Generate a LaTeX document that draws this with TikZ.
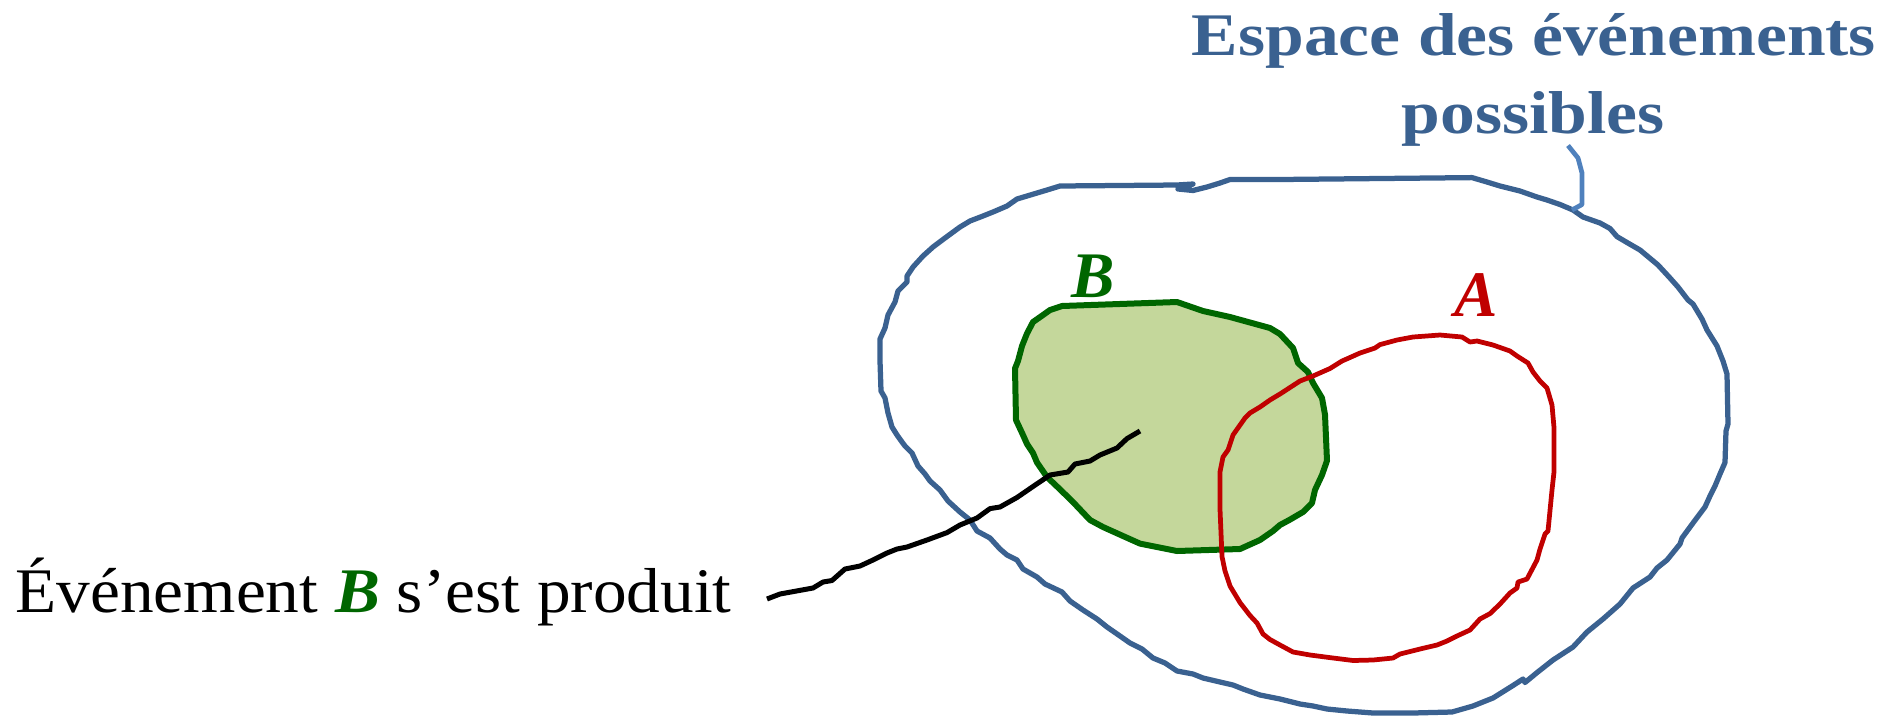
\documentclass[tikz,border=0pt]{standalone}
\usepackage{fontspec}
\setmainfont{Liberation Serif}
\newfontfamily\titlefont[FakeStretch=1.15]{Liberation Serif}
\newfontfamily\lblfont[FakeStretch=1.06]{Liberation Serif}
\definecolor{outblue}{HTML}{3A6190}
\definecolor{leadblue}{HTML}{4F81BD}
\definecolor{bgreen}{HTML}{006600}
\definecolor{bfill}{HTML}{C4D79B}
\definecolor{ared}{HTML}{C00000}
\tikzset{
  title/.style={anchor=base, inner sep=0pt, text=outblue, font=\titlefont\bfseries\fontsize{24.2pt}{29pt}\selectfont},
  setlabel/.style={anchor=center, inner sep=0pt, font=\bfseries\itshape\fontsize{26pt}{30pt}\selectfont},
  lbl/.style={anchor=base west, inner sep=0pt, font=\lblfont\fontsize{25.4pt}{30pt}\selectfont},
  univ/.style={draw=outblue, line width=2.1pt, line join=round, line cap=round},
  setb/.style={draw=bgreen, fill=bfill, line width=2.4pt, line join=round},
  seta/.style={draw=ared, line width=1.9pt, line join=round},
  pointer/.style={draw=black, line width=2pt, line join=round},
  leader/.style={draw=leadblue, line width=1.9pt, line join=round},
}
\begin{document}
\begin{tikzpicture}[x=0.4pt, y=-0.4pt]
\useasboundingbox (0,0) rectangle (1895,715);
% universe outline
\draw[univ] (1060,186) -- (1177,185) -- (1193,184) -- (1178,189) -- (1193,190.5) -- (1207,187) -- (1220,183) -- (1230,179.5) -- (1280,179.5) -- (1472,177.6) -- (1487,182) -- (1500,186) -- (1520,191) -- (1537,197) -- (1547,200) -- (1560,204.5) -- (1573,210) -- (1583,217) -- (1600,223) -- (1610,228.5) -- (1617,236.6) -- (1627,242.5) -- (1640,250) -- (1652,260) -- (1658,265) -- (1670,278) -- (1678,287) -- (1688,300) -- (1693,304) -- (1702,319) -- (1707,330) -- (1717,346) -- (1723,361) -- (1727,374) -- (1728,424) -- (1726,431) -- (1725,462.5) -- (1720,474) -- (1715,486) -- (1710,496) -- (1705,507) -- (1693,523) -- (1682,538) -- (1680,544) -- (1667,560) -- (1657,568) -- (1650,577) -- (1633,588) -- (1620,604) -- (1603,619) -- (1587,632) -- (1573,647) -- (1553,660) -- (1537,672.6) -- (1525,682.5) -- (1523,679) -- (1513,685.5) -- (1493,698) -- (1473,706) -- (1452,712) -- (1413,713) -- (1373,713) -- (1347,711) -- (1327,709) -- (1313,706) -- (1300,704) -- (1280,699) -- (1260,695) -- (1243,689) -- (1233,685) -- (1220,682) -- (1203,678) -- (1193,674) -- (1177,671) -- (1165,663) -- (1153,658) -- (1142,649) -- (1130,643) -- (1120,636) -- (1107,627) -- (1097,619) -- (1083,610) -- (1070,601) -- (1062,592) -- (1045,584) -- (1037,577) -- (1023,569) -- (1017,560) -- (1007,555) -- (1000,549) -- (990,538) -- (977,531) -- (970,520) -- (960,512) -- (948,501) -- (940,490) -- (930,481) -- (925,474) -- (918,466) -- (912,453) -- (905,446) -- (902,442) -- (897,435) -- (892,427) -- (888,413) -- (885,398) -- (881,391) -- (880,361) -- (880,339) -- (885,328) -- (888,315) -- (895,302) -- (898,291) -- (907,282) -- (907,276) -- (913,267) -- (923,256) -- (933,247) -- (945,238) -- (960,227) -- (970,221) -- (983,216) -- (993,212) -- (1007,206) -- (1017,199) -- (1027,196) -- (1037,193) -- (1047,190) -- cycle;
% set B
\draw[setb] (1062,306) -- (1177,302) -- (1203,311) -- (1230,317) -- (1270,328) -- (1280,334) -- (1293,348) -- (1298,363) -- (1308,372) -- (1313,383) -- (1322,398) -- (1325,414.6) -- (1327,460.7) -- (1322,475) -- (1315,490) -- (1312,503) -- (1303,512) -- (1290,519.6) -- (1280,525) -- (1273,531) -- (1260,540) -- (1240,549) -- (1177,551) -- (1140,543.6) -- (1123,536) -- (1103,527) -- (1090,520) -- (1072,501) -- (1057,486.5) -- (1047,477) -- (1037,462.5) -- (1033,453) -- (1027,444) -- (1023,435) -- (1016,420) -- (1015,368.5) -- (1018,361) -- (1022,346) -- (1027,333.5) -- (1033,322) -- (1043,315) -- (1050,310) -- cycle;
% set A
\draw[seta] (1280,394) -- (1300,381) -- (1313,376) -- (1330,368.5) -- (1342,361) -- (1350,357.5) -- (1360,353) -- (1375,348) -- (1380,344.6) -- (1397,340) -- (1413,337) -- (1440,335) -- (1462,337) -- (1470,342) -- (1477,341) -- (1493,345) -- (1510,351) -- (1517,356) -- (1528,363) -- (1533,372) -- (1540,381) -- (1547,388) -- (1552,405) -- (1554,427.5) -- (1554,472) -- (1552,490) -- (1548,531) -- (1545,534) -- (1540,549) -- (1537,560) -- (1527,579) -- (1518,582) -- (1517,588) -- (1510,593) -- (1500,604) -- (1490,613.6) -- (1480,619) -- (1470,630) -- (1457,636) -- (1447,641) -- (1437,645) -- (1420,649) -- (1400,654) -- (1393,658) -- (1373,660) -- (1353,660.5) -- (1333,658) -- (1310,655) -- (1293,652) -- (1280,645) -- (1270,639.5) -- (1263,634) -- (1257,623) -- (1250,615.5) -- (1240,602.6) -- (1230,586) -- (1225,571) -- (1222,556.5) -- (1220,509) -- (1220,472) -- (1223,457) -- (1228,450) -- (1233,435) -- (1245,418) -- (1250,413) -- (1260,407) -- (1270,400) -- cycle;
% labels
\node[setlabel, text=bgreen] (labB) at (1093,276) {B};
\node[setlabel, text=ared] (labA) at (1476,295) {A};
\node[title] (title1) at (1534,55) {Espace des événements};
\node[title] (title2) at (1533,133) {possibles};
\node[lbl] (event) at (15,612) {Événement \textcolor{bgreen}{\bfseries\itshape B} s’est produit};
% connectors
\coordinate (ptstart) at (767,599);
\coordinate (ptB) at (1140,431);
\draw[pointer] (ptstart) -- (780,594) -- (813,588) -- (823,582) -- (832,580.5) -- (845,569) -- (860,566) -- (873,560) -- (887,553) -- (897,549) -- (907,547) -- (927,540) -- (947,532.6) -- (960,525) -- (977,518) -- (990,508.6) -- (1000,507) -- (1017,497.5) -- (1033,486.5) -- (1050,475) -- (1068,472) -- (1075,464) -- (1090,461) -- (1100,455) -- (1117,448) -- (1127,438.6) -- (ptB);
\coordinate (leadtop) at (1568,145.5);
\coordinate (leadend) at (1572,210);
\draw[leader] (leadtop) -- (1578,158) -- (1582,173) -- (1582,204.5) -- (leadend);
\end{tikzpicture}
\end{document}
